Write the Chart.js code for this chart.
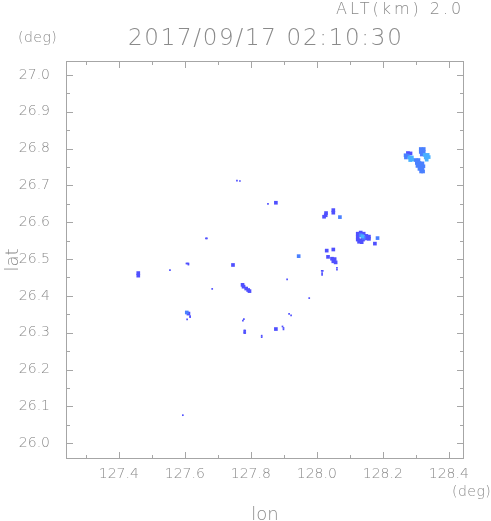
<!DOCTYPE html>
<html>
<head>
<meta charset="utf-8">
<script src="https://cdn.jsdelivr.net/npm/chart.js@4.4.1/dist/chart.umd.min.js"></script>
<style>
  body { margin: 0; background: #fff; }
  canvas { display: block; }
</style>
</head>
<body>
<canvas id="radarChart" width="491" height="521"></canvas>
<script>
// axis ranges and ticks (deg)
const lonRange = [127.24, 128.446];
const latRange = [25.957, 27.038];
const lonTicks = [127.4, 127.6, 127.8, 128.0, 128.2, 128.4];
const lonMinor = [127.3, 127.5, 127.7, 127.9, 128.1, 128.3];
const latTicks = [26.0, 26.1, 26.2, 26.3, 26.4, 26.5, 26.6, 26.7, 26.8, 26.9, 27.0];
const latMinor = [26.05, 26.15, 26.25, 26.35, 26.45, 26.55, 26.65, 26.75, 26.85, 26.95];

// single-pixel echoes [lon, lat]
const specks = [
  [127.758, 26.713], [127.767, 26.712],
  [127.664, 26.556], [127.667, 26.556],
  [127.852, 26.650], [127.555, 26.470], [127.683, 26.419],
  [127.910, 26.445], [127.977, 26.394],
  [127.916, 26.351], [127.922, 26.347],
  [127.607, 26.336], [127.594, 26.076],
  [128.061, 26.476], [128.061, 26.471],
  [127.833, 26.292], [127.833, 26.288],
  [127.605, 26.488], [127.608, 26.488], [127.611, 26.488], [127.611, 26.485],
  [127.779, 26.337], [127.776, 26.333],
  [128.015, 26.468], [128.018, 26.468], [128.016, 26.462], [128.016, 26.457],
  [127.616, 26.345], [127.616, 26.342],
  [127.896, 26.317], [127.899, 26.313], [127.899, 26.309],
  [127.780, 26.306], [127.783, 26.306], [127.780, 26.302],
  [127.783, 26.302], [127.780, 26.299], [127.783, 26.299]
];

// echo cells by intensity level [lon, lat]
const cellsLow = [
  [127.459, 26.462], [127.459, 26.455],
  [127.746, 26.484], [127.876, 26.653],
  [128.028, 26.625], [128.027, 26.619], [128.022, 26.615],
  [128.050, 26.633], [128.050, 26.626],
  [128.030, 26.523], [128.050, 26.526], [128.034, 26.506],
  [128.046, 26.501], [128.054, 26.500], [128.050, 26.494], [128.057, 26.491],
  [127.775, 26.430], [127.778, 26.425], [127.786, 26.420], [127.792, 26.416], [127.796, 26.413],
  [127.611, 26.352], [127.876, 26.310],
  [128.124, 26.569], [128.133, 26.572], [128.142, 26.569], [128.124, 26.561],
  [128.150, 26.563], [128.158, 26.561], [128.158, 26.555], [128.150, 26.556],
  [128.124, 26.553], [128.133, 26.551], [128.140, 26.553], [128.128, 26.547], [128.136, 26.546],
  [128.176, 26.542],
  [128.276, 26.788], [128.284, 26.787]
];
const cellsMid = [
  [127.945, 26.508], [128.070, 26.614], [127.606, 26.355], [128.184, 26.557],
  [128.133, 26.565], [128.142, 26.558],
  [128.269, 26.782], [128.276, 26.781], [128.270, 26.776],
  [128.315, 26.799], [128.324, 26.799], [128.315, 26.791], [128.324, 26.791], [128.318, 26.784],
  [128.300, 26.769], [128.308, 26.769], [128.303, 26.761], [128.311, 26.761], [128.320, 26.760],
  [128.305, 26.753], [128.314, 26.753], [128.323, 26.752], [128.311, 26.745], [128.320, 26.745],
  [128.316, 26.738], [128.322, 26.738]
];
const cellsHigh = [
  [128.138, 26.562],
  [128.281, 26.776], [128.288, 26.776], [128.283, 26.769], [128.289, 26.770],
  [128.327, 26.783], [128.336, 26.783], [128.330, 26.776], [128.339, 26.777], [128.333, 26.770]
];

const textColor = '#8a8a8a';
const tickFont = { family: 'DejaVu Sans', size: 14, weight: 200 };
const toXY = arr => arr.map(p => ({ x: p[0], y: p[1] }));

// frame with inward ticks on all four sides, plus header texts
const frameAndText = {
  id: 'frameAndText',
  afterDraw(chart) {
    const { ctx, chartArea: a, scales: { x, y } } = chart;
    ctx.save();
    ctx.strokeStyle = '#a6a6a6';
    ctx.lineWidth = 1;
    ctx.strokeRect(a.left + 0.5, a.top + 0.5, a.right - a.left - 1, a.bottom - a.top - 1);
    ctx.beginPath();
    const xt = (vals, len) => vals.forEach(v => {
      const p = Math.round(x.getPixelForValue(v)) + 0.5;
      ctx.moveTo(p, a.bottom); ctx.lineTo(p, a.bottom - len);
      ctx.moveTo(p, a.top); ctx.lineTo(p, a.top + len);
    });
    const yt = (vals, len) => vals.forEach(v => {
      const p = Math.round(y.getPixelForValue(v)) + 0.5;
      ctx.moveTo(a.left, p); ctx.lineTo(a.left + len, p);
      ctx.moveTo(a.right, p); ctx.lineTo(a.right - len, p);
    });
    xt(lonTicks, 7); xt(lonMinor, 4);
    yt(latTicks, 7); yt(latMinor, 4);
    ctx.stroke();

    ctx.fillStyle = textColor;
    ctx.textBaseline = 'middle';
    ctx.textAlign = 'left';
    ctx.font = '200 16px "DejaVu Sans"';
    ctx.letterSpacing = '3px';
    ctx.fillText('ALT(km) 2.0', 336, 10);
    ctx.font = '200 23px "DejaVu Sans"';
    ctx.letterSpacing = '1.7px';
    ctx.fillText('2017/09/17 02:10:30', 128, 39);
    ctx.font = '200 14px "DejaVu Sans"';
    ctx.letterSpacing = '0.5px';
    ctx.fillText('(deg)', 18, 38);
    ctx.fillText('(deg)', 452, 492);
    ctx.restore();
  }
};

const pointStyle = (color, r) => ({
  backgroundColor: color, pointStyle: 'rect', pointRadius: r, pointBorderWidth: 0, pointHoverRadius: r
});

new Chart(document.getElementById('radarChart'), {
  type: 'scatter',
  data: {
    datasets: [
      { label: 'high', data: toXY(cellsHigh), ...pointStyle('#48b0ff', 2.6) },
      { label: 'mid', data: toXY(cellsMid), ...pointStyle('#4a80ff', 2.6) },
      { label: 'low', data: toXY(cellsLow), ...pointStyle('#5050ff', 2.6) },
      { label: 'speck', data: toXY(specks), ...pointStyle('#5050ff', 1.2) }
    ]
  },
  options: {
    responsive: false,
    animation: false,
    layout: { padding: { left: 0, top: 61, right: 27, bottom: 0 } },
    plugins: { legend: { display: false }, tooltip: { enabled: false } },
    scales: {
      x: {
        type: 'linear',
        min: lonRange[0], max: lonRange[1],
        afterBuildTicks: s => { s.ticks = lonTicks.map(v => ({ value: v })); },
        afterFit: s => { s.height = 62; },
        grid: { display: false },
        border: { display: false },
        ticks: { color: textColor, font: tickFont, padding: -1, maxRotation: 0, autoSkip: false,
                 callback: v => v.toFixed(1) },
        title: { display: true, text: 'lon', color: textColor,
                 font: { family: 'DejaVu Sans', size: 18, weight: 200 }, padding: { top: 0, bottom: -5 } }
      },
      y: {
        type: 'linear',
        min: latRange[0], max: latRange[1],
        afterBuildTicks: s => { s.ticks = latTicks.map(v => ({ value: v })); },
        afterFit: s => { s.width = 66; },
        grid: { display: false },
        border: { display: false },
        ticks: { color: textColor, font: tickFont, padding: 8, autoSkip: false,
                 callback: v => v.toFixed(1) },
        title: { display: true, text: 'lat', color: textColor,
                 font: { family: 'DejaVu Sans', size: 18, weight: 200 }, padding: 3 }
      }
    }
  },
  plugins: [frameAndText]
});
</script>
</body>
</html>
